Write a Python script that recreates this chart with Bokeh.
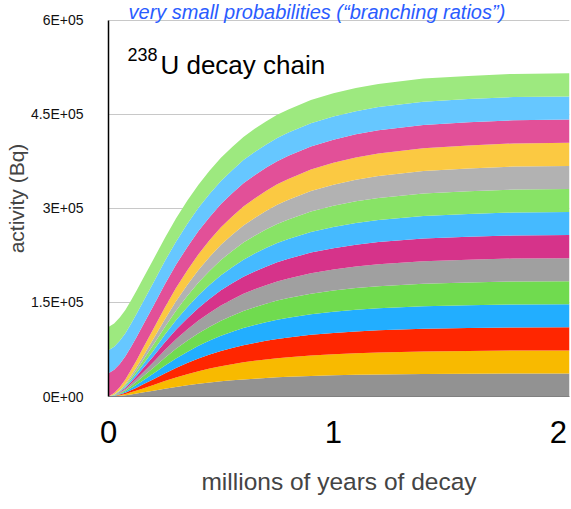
from bokeh.plotting import figure
from bokeh.models import ColumnDataSource, Range1d, FixedTicker, Label
from bokeh.core.properties import value
from bokeh.embed import file_html
from bokeh.resources import INLINE

# time (millions of years)
t = [0, 0.025, 0.05, 0.075, 0.1, 0.125, 0.15, 0.2, 0.25, 0.3, 0.35, 0.4,
     0.45, 0.5, 0.55, 0.6, 0.65, 0.7, 0.75, 0.8, 0.9, 1.0, 1.1, 1.2, 1.4,
     1.6, 1.8, 2.05]

# activities (Bq)
u238 = [37000] * len(t)
th234 = [37000] * len(t)
pa234m = [37000] * len(t)
u234 = [0, 2500, 4900, 7100, 9100, 11000, 12800, 16000, 18700, 21100, 23200,
        25000, 26600, 28000, 29200, 30200, 31100, 31900, 32500, 33100, 34100,
        34800, 35300, 35800, 36300, 36600, 36800, 36900]
th230 = [0, 300, 1000, 2000, 3300, 4700, 6200, 9200, 12300, 15200, 17800,
         20200, 22300, 24200, 25800, 27300, 28500, 29600, 30600, 31400, 32800,
         33800, 34600, 35200, 36000, 36400, 36700, 36800]
# daughters below Th-230 are in equilibrium with it (equal band widths)
ra226 = list(th230)
rn222 = list(th230)
po218 = list(th230)
pb214 = list(th230)
bi214 = list(th230)
po214 = list(th230)
pb210 = list(th230)
bi210 = list(th230)
po210 = list(th230)

# stacking order bottom -> top
names = ["po210", "bi210", "pb210", "po214", "bi214", "pb214", "po218",
         "rn222", "ra226", "th230", "u234", "pa234m", "th234", "u238"]
colors = ["#929292", "#f8ba00", "#ff2600", "#22aeff", "#70db4f", "#a0a0a0",
          "#d6338a", "#45baff", "#88e366", "#b2b2b2", "#fbc942", "#e25098",
          "#66c7ff", "#9de97f"]

y_ticks = [0, 150000, 300000, 450000, 600000]
y_tick_labels = ["0E+00", "1.5E+05", "3E+05", "4.5E+05", "6E+05"]
x_ticks = [0, 1, 2]

title_text = "very small probabilities (\u201cbranching ratios\u201d)"

source = ColumnDataSource(data=dict(
    t=t, po210=po210, bi210=bi210, pb210=pb210, po214=po214, bi214=bi214,
    pb214=pb214, po218=po218, rn222=rn222, ra226=ra226, th230=th230,
    u234=u234, pa234m=pa234m, th234=th234, u238=u238))

FONT = "Liberation Sans"

p = figure(width=571, height=509, output_backend="svg", toolbar_location=None,
           x_range=Range1d(0, 2.05), y_range=Range1d(0, 631900),
           min_border_left=108, min_border_right=2, min_border_top=0,
           min_border_bottom=113)
p.outline_line_color = None
p.background_fill_color = "white"

p.varea_stack(stackers=names, x="t", color=colors, source=source)

# axes
p.yaxis.ticker = FixedTicker(ticks=y_ticks)
p.yaxis.bounds = (0, 600000)
p.yaxis.major_label_overrides = {v: s for v, s in zip(y_ticks, y_tick_labels)}
p.yaxis.major_label_text_font = FONT
p.yaxis.major_label_text_font_size = "14px"
p.yaxis.major_label_text_color = "#111111"
p.yaxis.major_tick_line_color = None
p.yaxis.minor_tick_line_color = None
p.yaxis.major_label_standoff = 19
p.yaxis.axis_line_color = "black"
p.yaxis.axis_line_width = 1.5
p.yaxis.axis_label = "activity (Bq)"
p.yaxis.axis_label_text_font = FONT
p.yaxis.axis_label_text_font_size = "21px"
p.yaxis.axis_label_text_font_style = "normal"
p.yaxis.axis_label_standoff = 0

p.xaxis.ticker = FixedTicker(ticks=x_ticks)
p.xaxis.major_label_text_font = FONT
p.xaxis.major_label_text_font_size = "31px"
p.xaxis.major_label_text_color = "black"
p.xaxis.major_tick_line_color = None
p.xaxis.minor_tick_line_color = None
p.xaxis.major_label_standoff = 18
p.xaxis.axis_line_color = "#808080"
p.xaxis.axis_label = "millions of years of decay"
p.xaxis.axis_label_text_font = FONT
p.xaxis.axis_label_text_font_size = "24.5px"
p.xaxis.axis_label_text_font_style = "normal"
p.xaxis.axis_label_standoff = 22

p.xgrid.grid_line_color = None
p.ygrid.ticker = FixedTicker(ticks=y_ticks)
p.ygrid.grid_line_color = "#c8c8c8"
p.ygrid.level = "underlay"

# title line at the very top
p.text(x=[0.089], y=[613000], text=[title_text], text_font=value(FONT),
       text_font_size="20px", text_font_style="italic", text_color="#2a5cff",
       text_baseline="alphabetic", text_align="left")

# annotations
p.add_layout(Label(x=0.0845, y=545800, text="238", text_font=FONT,
                   text_font_size="18px", text_color="black",
                   text_baseline="alphabetic"))
p.add_layout(Label(x=0.231, y=528700, text="U decay chain", text_font=FONT,
                   text_font_size="26px", text_color="black",
                   text_baseline="alphabetic"))

open("out.html", "w").write(file_html(p, INLINE))
